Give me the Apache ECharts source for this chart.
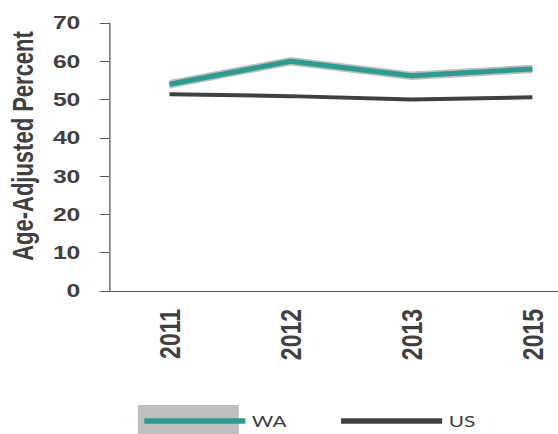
<!DOCTYPE html>
<html>
<head>
<meta charset="utf-8">
<script src="https://cdn.jsdelivr.net/npm/echarts@6/dist/echarts.min.js"></script>
<style>
html,body{margin:0;padding:0;overflow:hidden;background:#fff;width:558px;height:434px;}
#c{width:470px;height:434px;transform:scaleX(1.3);transform-origin:0 0;}
</style>
</head>
<body>
<div id="c"></div>
<script>
// ---- data ----
var years = ['2011', '2012', '2013', '2015'];
var waValues = [54.0, 60.0, 56.2, 58.0];
var waLow = [52.9, 58.9, 55.1, 56.9];
var waHigh = [55.1, 61.1, 57.3, 59.1];
var usValues = [51.4, 50.9, 50.0, 50.6];
var yTicks = { min: 0, max: 70, step: 10 };
var yTitle = 'Age-Adjusted Percent';
var seriesNames = ['WA', 'US'];

var bandDiff = waHigh.map(function (v, i) { return +(v - waLow[i]).toFixed(2); });

var textColor = '#404040';
var axisColor = '#595959';
var teal = '#2B9C8E';
var grayBand = '#BFBFBF';
var usColor = '#404040';

var chart = echarts.init(document.getElementById('c'), null, { renderer: 'svg' });
chart.setOption({
  animation: false,
  backgroundColor: '#ffffff',
  grid: { left: 83.8, top: 23, width: 372.3, height: 268, containLabel: false, outerBoundsMode: 'none' },
  graphic: [{
    type: 'rect', z: 0,
    shape: { x: 106, y: 405, width: 77.7, height: 30 },
    style: { fill: grayBand }
  }],
  legend: {
    data: seriesNames,
    left: 106, top: 407,
    itemWidth: 77.7, itemHeight: 5.5, itemGap: 42,
    icon: 'rect',
    z: 10,
    textStyle: { fontFamily: 'Lato', fontSize: 16, color: textColor, lineHeight: 18 }
  },
  xAxis: {
    type: 'category',
    data: years,
    boundaryGap: true,
    axisLine: { lineStyle: { color: axisColor, width: 1 } },
    axisTick: { length: 7, lineStyle: { color: axisColor } },
    axisLabel: { rotate: 90, margin: 18, fontSize: 23, fontWeight: 'bold', fontFamily: 'Liberation Sans', color: textColor },
    splitLine: { show: false }
  },
  yAxis: {
    type: 'value',
    min: yTicks.min, max: yTicks.max, interval: yTicks.step,
    name: yTitle,
    nameLocation: 'middle',
    nameGap: 55,
    nameRotate: 90,
    nameTextStyle: { fontSize: 22, fontWeight: 'bold', fontFamily: 'Liberation Sans', color: textColor, padding: [0, 0, 0, 22] },
    axisLine: { show: true, lineStyle: { color: axisColor, width: 1 } },
    axisTick: { show: true, length: 7, lineStyle: { color: axisColor } },
    axisLabel: { margin: 22, fontSize: 19, fontWeight: 'bold', fontFamily: 'Liberation Sans', color: textColor },
    splitLine: { show: false }
  },
  series: [
    {
      name: 'WA_low', type: 'line', data: waLow, stack: 'ci',
      symbol: 'none', lineStyle: { opacity: 0 }, silent: true, z: 1
    },
    {
      name: 'WA_band', type: 'line', data: bandDiff, stack: 'ci',
      symbol: 'none', lineStyle: { opacity: 0 }, areaStyle: { color: grayBand, opacity: 1 }, silent: true, z: 1
    },
    {
      name: 'WA', type: 'line', data: waValues, symbol: 'none',
      lineStyle: { color: teal, width: 5 }, itemStyle: { color: teal }, z: 3
    },
    {
      name: 'US', type: 'line', data: usValues, symbol: 'none',
      lineStyle: { color: usColor, width: 4 }, itemStyle: { color: usColor }, z: 2
    }
  ]
});
</script>
</body>
</html>
